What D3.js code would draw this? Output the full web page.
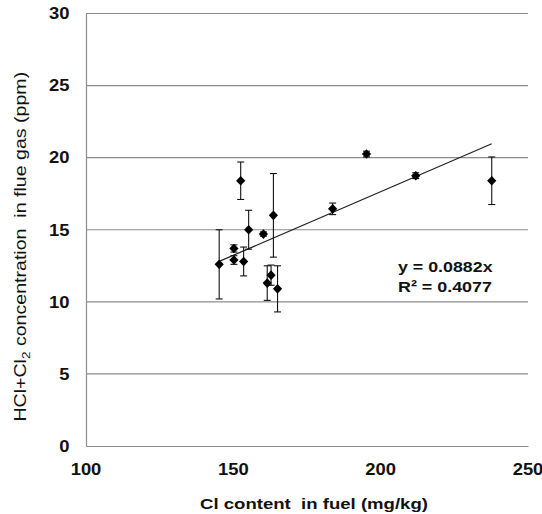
<!DOCTYPE html>
<html><head><meta charset="utf-8">
<script src="https://cdn.jsdelivr.net/npm/d3@7"></script>
<style>body{margin:0;background:#fff}svg{display:block}text{font-family:"Liberation Sans",Arial,sans-serif}</style>
</head><body>
<svg id="c" width="542" height="514"></svg>
<script>
const xVals   = [145.2, 150.2, 150.2, 153.5, 152.5, 155.2, 160.2, 163.6, 161.5, 162.8, 165.0, 183.7, 195.2, 211.9, 237.7];
const yVals   = [12.6, 13.7, 12.9, 12.8, 18.4, 15.0, 14.7, 16.0, 11.3, 11.85, 10.9, 16.45, 20.25, 18.75, 18.4];
const yErr    = [2.4, 0.25, 0.3, 1.0, 1.3, 1.35, 0.15, 2.9, 1.2, 0.7, 1.6, 0.4, 0.2, 0.2, 1.65];
const xTicks  = [100, 150, 200, 250];
const yTicks  = [0, 5, 10, 15, 20, 25, 30];
const slope = 0.0882, r2 = 0.4077;

const svg = d3.select("#c");
const m = {l:86, r:528, t:13.5, b:446};
const x = d3.scaleLinear().domain([100,250]).range([m.l, m.r]);
const y = d3.scaleLinear().domain([0,30]).range([m.b, m.t]);
const SX = 1.15;

// fit a text (placed at 0,0) to a target width, then position
function place(sel, tx, ty, target) {
  const w = sel.node().getBBox().width;
  const s = target ? target / w : SX;
  sel.attr("transform", `translate(${tx},${ty}) scale(${s},1)`);
}

// gridlines
svg.append("g").selectAll("line").data(yTicks.filter(d=>d>0)).join("line")
  .attr("x1", m.l).attr("x2", m.r).attr("y1", d=>y(d)).attr("y2", d=>y(d))
  .attr("stroke", "#8c8c8c").attr("stroke-width", 1.2);

// axes lines
const xa = svg.append("g").attr("transform", `translate(0,${m.b})`)
  .call(d3.axisBottom(x).tickValues(xTicks).tickSize(0).tickFormat(""));
const ya = svg.append("g").attr("transform", `translate(${m.l},0)`)
  .call(d3.axisLeft(y).tickValues(yTicks).tickSize(0).tickFormat(""));
[xa, ya].forEach(a => a.select(".domain").attr("stroke", "#8c8c8c").attr("stroke-width", 1.2));

// tick labels
const tl = svg.append("g").attr("font-size", 16).attr("font-weight", "bold").attr("fill", "#111");
xTicks.forEach(v => {
  const t = tl.append("text").attr("text-anchor", "middle").text(v);
  place(t, x(v), 475);
});
yTicks.forEach(v => {
  const t = tl.append("text").attr("text-anchor", "end").attr("dy", "0.36em").text(v);
  place(t, 69.5, y(v));
});

// trendline
const xmin = d3.min(xVals), xmax = d3.max(xVals);
svg.append("line").attr("x1", x(xmin)).attr("y1", y(slope*xmin))
  .attr("x2", x(xmax)).attr("y2", y(slope*xmax))
  .attr("stroke", "#222").attr("stroke-width", 1.2);

// error bars
const data = xVals.map((v,i)=>({x:v, y:yVals[i], e:yErr[i]}));
const eb = svg.append("g").attr("stroke", "#111").attr("stroke-width", 1.1);
data.forEach(d => {
  const cx = x(d.x);
  eb.append("line").attr("x1", cx).attr("x2", cx).attr("y1", y(d.y+d.e)).attr("y2", y(d.y-d.e));
  eb.append("line").attr("x1", cx-3.5).attr("x2", cx+3.5).attr("y1", y(d.y+d.e)).attr("y2", y(d.y+d.e));
  eb.append("line").attr("x1", cx-3.5).attr("x2", cx+3.5).attr("y1", y(d.y-d.e)).attr("y2", y(d.y-d.e));
});

// markers
svg.append("g").selectAll("path").data(data).join("path")
  .attr("transform", d=>`translate(${x(d.x)},${y(d.y)})`)
  .attr("d", "M0,-4.8L4.6,0L0,4.8L-4.6,0Z").attr("fill", "#000");

// equation
const eq = svg.append("g").attr("font-size", 15.5).attr("font-weight", "bold").attr("fill", "#111");
place(eq.append("text").text(`y = ${slope}x`), 398, 272, 95);
place(eq.append("text").text(`R² = ${r2}`), 398, 292, 94);

// x title
const xt = svg.append("text").attr("text-anchor", "middle")
  .attr("font-size", 15.5).attr("font-weight", "bold").attr("fill", "#111")
  .style("white-space","pre").text("Cl content  in fuel (mg/kg)");
place(xt, 314, 508.5, 228);

// y title
const yg = svg.append("g").attr("transform", "translate(25.5,246.7) rotate(-90)");
const yt = yg.append("text").attr("text-anchor", "middle").attr("font-size", 16)
  .attr("fill", "#111").style("white-space","pre");
yt.append("tspan").text("HCl+Cl");
yt.append("tspan").attr("font-size", 11).attr("dy", 4).text("2");
yt.append("tspan").attr("dy", -4).text(" concentration  in flue gas (ppm)");
place(yt, 0, 0, 350);
</script>
</body></html>
